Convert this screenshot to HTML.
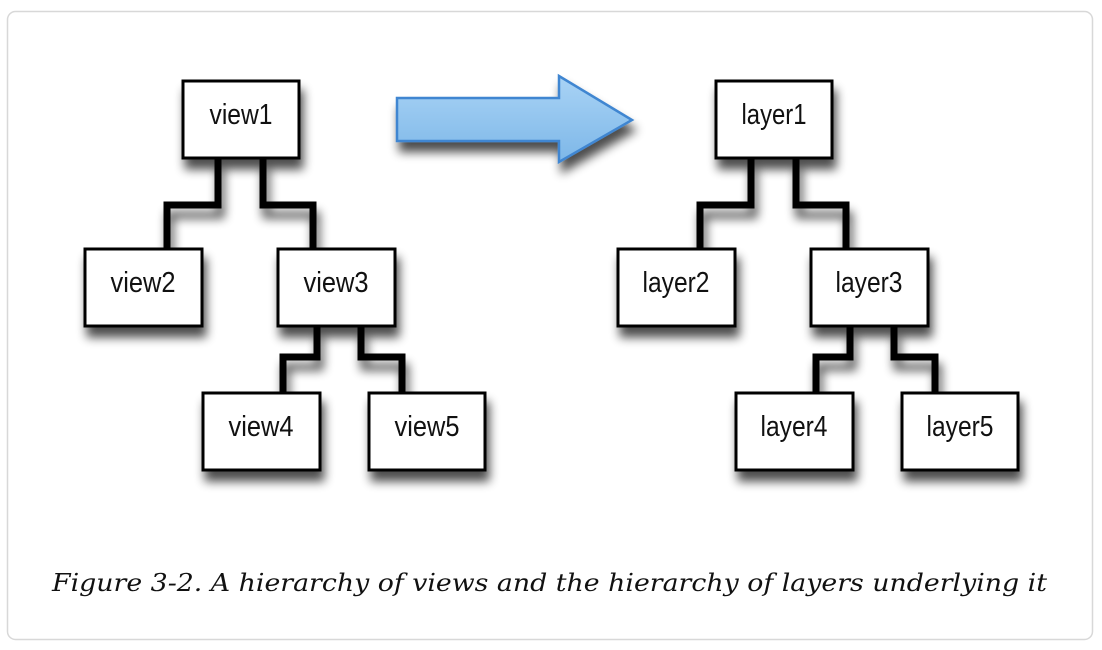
<!DOCTYPE html>
<html><head><meta charset="utf-8"><style>
html,body{margin:0;padding:0;background:#fff;width:1102px;height:650px;overflow:hidden}
</style></head><body>
<svg width="1102" height="650" viewBox="0 0 1102 650" xmlns="http://www.w3.org/2000/svg">
<defs>
<filter id="sh" x="-30%" y="-30%" width="160%" height="180%">
<feGaussianBlur in="SourceAlpha" stdDeviation="5"/>
<feOffset dx="3" dy="10" result="b"/>
<feComponentTransfer><feFuncA type="linear" slope="0.7"/></feComponentTransfer>
<feMerge><feMergeNode/><feMergeNode in="SourceGraphic"/></feMerge>
</filter>
<linearGradient id="ag" x1="0" y1="0" x2="0" y2="1">
<stop offset="0" stop-color="#a9d3f5"/><stop offset="1" stop-color="#7db7e8"/>
</linearGradient>
<g id="tree">
<g fill="none" stroke="#000" stroke-width="7" stroke-linejoin="miter" filter="url(#sh)">
<path d="M218 158 V205 H167 V248"/>
<path d="M263 158 V205 H313 V248"/>
<path d="M317 326 V357 H283 V392"/>
<path d="M361 326 V357 H402 V392"/>
</g>
<g fill="#fff" stroke="#000" stroke-width="3" filter="url(#sh)">
<rect x="183" y="81" width="116" height="77"/>
<rect x="85" y="249" width="117" height="77"/>
<rect x="278" y="249" width="117" height="77"/>
<rect x="203" y="393" width="117" height="77"/>
<rect x="369" y="393" width="116" height="77"/>
</g>
</g>
</defs>
<rect x="7.5" y="11.5" width="1085" height="628" rx="8" fill="#fff" stroke="#d8d8d8" stroke-width="1.5"/>
<use href="#tree"/>
<use href="#tree" transform="translate(533,0)"/>
<g font-family="'Liberation Sans Narrow','Liberation Sans',sans-serif" font-size="29" fill="#111" text-anchor="middle">
<text x="241" y="124" textLength="63" lengthAdjust="spacingAndGlyphs">view1</text>
<text x="143" y="292" textLength="65" lengthAdjust="spacingAndGlyphs">view2</text>
<text x="336" y="292" textLength="65" lengthAdjust="spacingAndGlyphs">view3</text>
<text x="261" y="436" textLength="65" lengthAdjust="spacingAndGlyphs">view4</text>
<text x="427" y="436" textLength="65" lengthAdjust="spacingAndGlyphs">view5</text>
<text x="774" y="124" textLength="65" lengthAdjust="spacingAndGlyphs">layer1</text>
<text x="676" y="292" textLength="67" lengthAdjust="spacingAndGlyphs">layer2</text>
<text x="869" y="292" textLength="67" lengthAdjust="spacingAndGlyphs">layer3</text>
<text x="794" y="436" textLength="67" lengthAdjust="spacingAndGlyphs">layer4</text>
<text x="960" y="436" textLength="67" lengthAdjust="spacingAndGlyphs">layer5</text>
</g>
<path d="M397 98 H559 V76 L632 120 L559 162 V141 H397 Z" fill="url(#ag)" stroke="#3f86d1" stroke-width="2.5" stroke-linejoin="miter" filter="url(#sh)"/>
<text x="52" y="591" font-family="'DejaVu Serif','Liberation Serif',serif" font-style="italic" font-size="24" fill="#111" textLength="995" lengthAdjust="spacingAndGlyphs">Figure 3-2. A hierarchy of views and the hierarchy of layers underlying it</text>
</svg>
</body></html>
